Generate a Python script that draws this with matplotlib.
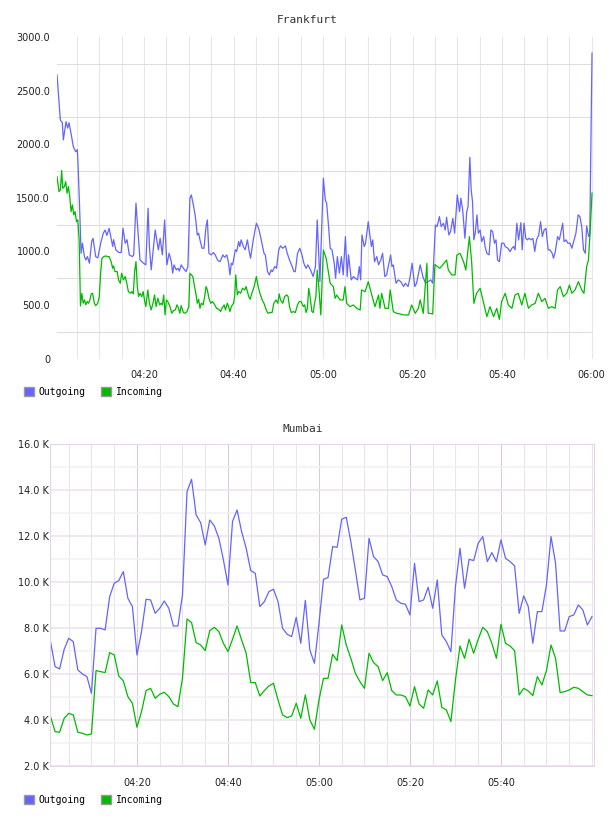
import numpy as np
import matplotlib
matplotlib.use('Agg')
import matplotlib.pyplot as plt
from matplotlib.patches import Patch

# Frankfurt, minutes after 04:00
fra_out_t = [0.56, 1.3, 1.74, 1.97, 2.57, 2.94, 3.24, 3.69, 4.2, 4.73, 5.1, 5.3, 5.6, 5.93, 6.23, 6.68,
             6.98, 7.35, 7.8, 8.3, 8.6, 9.2, 9.66, 10.4, 10.9, 11.3, 11.7, 12.2, 13.0, 13.2, 13.7, 14.4,
             14.9, 15.3, 15.8, 16.2, 16.7, 17.4, 17.7, 18.2, 19.1, 19.9, 20.4, 20.9, 21.2, 21.6, 22.5,
             23.2, 23.6, 24.1, 24.6, 25.1, 25.6, 26.1, 26.4, 26.7, 27.2, 27.6, 27.9, 28.3, 28.8, 29.4,
             29.8, 30.25, 30.57, 31.1, 31.47, 31.9, 32.2, 32.5, 32.96, 33.4, 33.85, 34.15, 34.5, 35.0,
             35.5, 35.9, 36.5, 37.0, 37.6, 38.0, 38.5, 38.9, 39.2, 39.5, 39.8, 40.4, 40.7, 41.15, 41.4,
             41.7, 42.2, 42.6, 43.1, 43.5, 43.8, 44.4, 45.1, 45.6, 46.2, 46.8, 47.1, 47.6, 48.0, 48.4,
             48.7, 49.2, 49.6, 50.1, 50.5, 51.0, 51.6, 52.0, 52.5, 53.1, 53.5, 53.8, 54.3, 54.8, 55.3,
             55.7, 56.2, 56.6, 57.2, 57.8, 58.3, 58.7, 59.3, 60.07, 60.5, 60.8, 61.3, 61.6, 62.0, 62.5,
             62.8, 63.2, 63.65, 64.1, 64.5, 65.0, 65.4, 65.7, 66.3, 66.8, 67.2, 67.7, 68.1, 68.4, 68.7,
             69.2, 69.5, 70.1, 70.5, 70.8, 71.1, 71.5, 72.0, 72.4, 72.9, 73.3, 73.8, 74.2, 75.1, 75.4,
             75.7, 76.3, 76.8, 77.35, 78.0, 78.4, 79.0, 79.4, 79.9, 80.5, 80.9, 81.7, 82.3, 82.9, 83.5,
             84.05, 84.5, 85.1, 85.5, 86.0, 86.4, 86.9, 87.3, 87.6, 88.1, 88.5, 89.0, 89.4, 90.0, 90.5,
             90.8, 91.2, 91.7, 92.1, 92.4, 92.8, 93.1, 93.4, 93.7, 94.0, 94.4, 94.7, 95.1, 95.45, 95.9,
             96.2, 96.6, 97.1, 97.5, 97.9, 98.3, 98.65, 99.0, 99.4, 99.9, 100.4, 100.7, 101.3, 101.8,
             102.2, 102.6, 102.9, 103.3, 103.7, 104.2, 104.5, 104.9, 105.3, 105.65, 106.0, 106.5, 106.9,
             107.3, 107.7, 108.2, 108.6, 109.0, 109.4, 109.8, 110.3, 110.7, 111.2, 111.5, 111.9, 112.4,
             112.8, 113.25, 113.55, 113.85, 114.3, 114.7, 115.2, 115.6, 116.1, 116.5, 117.0, 117.4,
             117.8, 118.2, 118.6, 118.9, 119.35, 119.6, 120.1]
fra_out = [2646, 2225, 2200, 2040, 2210, 2150, 2200, 2100, 1977, 1930, 1950, 1760, 1418, 983, 1077, 952,
           921, 952, 890, 1092, 1123, 952, 940, 1092, 1170, 1200, 1150, 1216, 1046, 1110, 1015, 990,
           990, 1216, 1077, 1110, 968, 952, 968, 1450, 921, 890, 875, 1403, 1046, 828, 1200,
           1015, 1123, 968, 1294, 875, 983, 905, 797, 875, 828, 843, 818, 875, 843, 812,
           860, 1496, 1527, 1418, 1325, 1154, 1170, 1108, 1030, 1030, 1232, 1294, 983, 968,
           990, 968, 915, 905, 968, 946, 968, 890, 781, 890, 875, 1015, 1000, 1092, 1046,
           1108, 1046, 1015, 1108, 1000, 937, 1108, 1263, 1216, 1108, 983, 968, 812, 781, 828,
           812, 859, 843, 1015, 1052, 1030, 1052, 983, 921, 859, 812, 812, 983, 1030, 968,
           890, 843, 875, 828, 766, 859, 1294, 719, 1683, 1481, 1450, 1200, 1030, 1015, 890,
           750, 952, 797, 952, 781, 1139, 766, 968, 735, 766, 750, 735, 859, 735, 1154,
           1046, 1077, 1278, 1139, 1046, 1108, 905, 952, 875, 921, 983, 766, 781, 968, 859,
           875, 704, 735, 719, 673, 704, 673, 750, 890, 673, 704, 875, 766, 704, 719,
           735, 704, 1247, 1232, 1325, 1232, 1263, 1200, 1319, 1154, 1185, 1310, 1170, 1527, 1372,
           1496, 1387, 1123, 1372, 1418, 1878, 1574, 1465, 1108, 1170, 1341, 1170, 1200, 1092, 1139,
           1046, 983, 968, 1200, 1185, 1077, 1108, 921, 905, 1077, 1077, 1046, 1030, 999,
           1030, 1046, 1015, 1263, 1108, 1269, 1015, 1263, 1123, 1108, 1123, 1108, 1123,
           999, 1108, 1154, 1278, 1139, 1200, 1216, 1015, 1015, 983, 937, 999, 1139,
           1108, 1200, 1263, 1092, 1108, 1077, 1077, 1030, 1108, 1170, 1341, 1325,
           1232, 1015, 983, 1238, 1139, 1150, 2850]

fra_in_t = [0.56, 1.0, 1.3, 1.6, 1.83, 2.2, 2.5, 2.8, 3.1, 3.4, 3.7, 4.0, 4.3, 4.6, 4.9, 5.2, 5.5, 5.8,
            6.1, 6.4, 6.7, 7.0, 7.3, 7.6, 7.9, 8.2, 8.5, 8.9, 9.2, 9.66, 10.0, 10.3, 10.6, 11.0, 11.45,
            11.9, 12.2, 12.65, 13.0, 13.2, 13.5, 14.0, 14.3, 14.7, 15.0, 15.4, 15.8, 16.15, 16.5, 17.0,
            17.3, 17.6, 17.9, 18.2, 18.5, 18.8, 19.1, 19.5, 19.8, 20.1, 20.4, 20.85, 21.2, 21.6, 22.0,
            22.35, 22.7, 23.1, 23.5, 23.8, 24.1, 24.4, 24.7, 25.0, 25.3, 25.8, 26.2, 26.6, 27.0, 27.35,
            27.7, 28.0, 28.3, 28.8, 29.2, 29.6, 30.0, 30.25, 30.6, 30.9, 31.3, 31.7, 31.9, 32.2, 32.5,
            32.8, 33.2, 33.55, 33.85, 34.15, 34.5, 34.9, 35.3, 35.8, 36.2, 36.7, 37.1, 37.4, 37.9, 38.2,
            38.6, 38.9, 39.2, 39.5, 40.0, 40.25, 40.5, 40.85, 41.15, 41.6, 42.0, 42.5, 42.8, 43.1, 43.4,
            43.7, 44.1, 44.6, 45.1, 45.5, 45.9, 46.4, 46.8, 47.3, 47.7, 48.1, 48.6, 49.0, 49.5, 49.9,
            50.2, 50.5, 51.0, 51.4, 51.9, 52.2, 52.5, 52.9, 53.4, 53.8, 54.3, 54.7, 55.1, 55.6, 55.9,
            56.2, 56.5, 56.8, 57.1, 57.5, 57.8, 58.1, 58.4, 58.7, 59.0, 59.5, 60.07, 60.7, 61.6, 62.3,
            62.7, 63.05, 63.8, 64.5, 64.9, 65.3, 66.0, 66.8, 67.5, 68.3, 68.6, 69.4, 70.1, 70.9, 71.6,
            72.4, 72.7, 73.1, 73.85, 74.6, 75.0, 75.7, 76.5, 77.2, 78.0, 79.1, 79.8, 80.6, 81.3, 81.7,
            82.4, 83.2, 83.5, 83.9, 84.5, 85.0, 86.1, 87.6, 88.0, 88.75, 89.5, 89.9, 90.6, 91.4, 91.9,
            92.7, 93.2, 93.7, 94.3, 95.1, 95.8, 96.6, 97.3, 98.1, 98.8, 99.4, 99.9, 100.7, 101.4, 102.2,
            102.9, 103.6, 104.4, 105.1, 105.9, 106.6, 107.4, 108.1, 108.9, 109.6, 110.35, 111.1, 111.85,
            112.4, 113.0, 113.7, 114.45, 115.05, 115.6, 116.3, 117.05, 117.8, 118.3, 118.9, 119.3,
            119.7, 120.1]
fra_in = [1697, 1558, 1574, 1754, 1589, 1605, 1651, 1543, 1605, 1512, 1372, 1434, 1341, 1372, 1278, 1294, 1108, 492,
          610, 517, 548, 502, 533, 517, 548, 604, 610, 517, 495, 517, 579, 797, 937, 952, 958,
          952, 952, 905, 843, 865, 812, 812, 735, 704, 797, 735, 766, 704, 626, 610,
          626, 604, 812, 905, 673, 579, 610, 579, 626, 548, 486, 641, 517, 455, 517,
          595, 486, 564, 502, 517, 502, 595, 408, 548, 533, 486, 424, 449, 455, 502,
          471, 424, 495, 430, 424, 440, 486, 797, 781, 766, 673, 579, 517, 554, 470,
          517, 502, 579, 673, 641, 564, 517, 533, 502, 470, 461, 440, 470, 502, 455,
          517, 486, 440, 486, 517, 579, 781, 595, 626, 610, 657, 641, 673, 626, 579,
          554, 610, 673, 766, 673, 610, 548, 517, 455, 424, 430, 430, 517, 548, 517,
          604, 548, 517, 579, 595, 579, 486, 430, 440, 430, 502, 533, 533, 486, 502,
          430, 470, 657, 579, 440, 430, 517, 579, 826, 700, 408, 1013, 936, 703, 672,
          563, 594, 548, 548, 672, 516, 485, 501, 470, 454, 641, 625, 718, 594, 485,
          594, 470, 610, 470, 470, 641, 439, 423, 417, 408, 408, 501, 423, 470, 548,
          423, 889, 423, 423, 417, 878, 843, 920, 827, 781, 781, 967, 983, 905, 827,
          1138, 905, 516, 610, 656, 532, 392, 485, 392, 470, 367, 532, 610, 501, 470,
          594, 610, 501, 610, 470, 501, 516, 610, 532, 563, 470, 485, 470,
          641, 672, 579, 610, 687, 610, 641, 718, 641, 610, 858, 920,
          1200, 1545]

# Mumbai, one sample per minute after 04:00
mum_t = list(range(1, 121))
mum_out = [7407, 6320, 6219, 7074, 7552, 7407, 6175, 6001, 5885, 5161,
           7986, 7986, 7914, 9365, 9944, 10060, 10451, 9292, 8928, 6827,
           7842, 9249, 9220, 8638, 8856, 9175, 8856, 8088, 8088, 9437,
           13929, 14465, 12915, 12581, 11611, 12697, 12436, 11900, 10958, 9872,
           12625, 13132, 12190, 11466, 10495, 10379, 8930, 9147, 9582, 9683,
           9147, 7986, 7726, 7624, 8465, 7334, 9200, 7045, 6465, 8200,
           10118, 10190, 11538, 11509, 12726, 12813, 11756, 10524, 9220, 9292,
           11900, 11103, 10886, 10306, 10234, 9799, 9220, 9075, 9031, 8566,
           10813, 9147, 9220, 9770, 8856, 10089, 7697, 7407, 6972, 9799,
           11466, 9727, 10987, 10929, 11683, 11973, 10886, 11277, 10886, 11828,
           11031, 10886, 10698, 8638, 9394, 8928, 7334, 8711, 8711, 9872,
           11973, 10813, 7870, 7870, 8494, 8566, 9001, 8783, 8131, 8494]
mum_in = [4146, 3494, 3466, 4074, 4291, 4219, 3466, 3422, 3350, 3393,
          6146, 6103, 6059, 6929, 6827, 5914, 5697, 5016, 4726, 3683,
          4364, 5277, 5378, 4943, 5117, 5204, 5016, 4697, 4581, 5813,
          8392, 8233, 7363, 7262, 7015, 7885, 8030, 7842, 7334, 6972,
          7508, 8088, 7479, 6900, 5625, 5625, 5045, 5277, 5480, 5596,
          4871, 4219, 4103, 4175, 4726, 4074, 5088, 4000, 3596, 4871,
          5813, 5813, 6856, 6581, 8131, 7262, 6682, 6030, 5668, 5378,
          6900, 6494, 6320, 5712, 6059, 5277, 5088, 5088, 5016, 4610,
          5451, 4697, 4509, 5306, 5088, 5697, 4552, 4436, 3929, 5741,
          7218, 6682, 7508, 6900, 7508, 8030, 7842, 7334, 6682, 8160,
          7334, 7218, 7015, 5088, 5378, 5262, 5059, 5885, 5523, 6146,
          7262, 6682, 5190, 5233, 5306, 5422, 5378, 5233, 5088, 5059]

xtick_min = [20, 40, 60, 80, 100, 120]
xtick_lbl = ['04:20', '04:40', '05:00', '05:20', '05:40', '06:00']
fra_yticks = [0, 500, 1000, 1500, 2000, 2500, 3000]
fra_ylbl = ['0', '500.0', '1000.0', '1500.0', '2000.0', '2500.0', '3000.0']
mum_yticks = [2000, 4000, 6000, 8000, 10000, 12000, 14000, 16000]
mum_ylbl = ['2.0 K', '4.0 K', '6.0 K', '8.0 K', '10.0 K', '12.0 K', '14.0 K', '16.0 K']
series_names = ['Outgoing', 'Incoming']

OUT_C = '#6464ff'
IN_C = '#00bb00'
MONO = 'DejaVu Sans Mono'
GW = 0.75  # one pixel grid lines

plt.rcParams['font.family'] = 'DejaVu Sans'
plt.rcParams['font.size'] = 7

fig = plt.figure(figsize=(6.08, 8.16), dpi=100)

# --- Frankfurt ---
ax1 = fig.add_axes([0.0938, 0.5604, 0.8816, 0.3943])
ax1.plot(fra_out_t, fra_out, color=OUT_C, lw=0.9)
ax1.plot(fra_in_t, fra_in, color=IN_C, lw=0.9)
ax1.set_xlim(0.56, 120.33)
ax1.set_ylim(0, 3000)
ax1.set_xticks(xtick_min, xtick_lbl)
ax1.set_xticks(np.arange(5, 121, 5), minor=True)
ax1.set_yticks(fra_yticks, fra_ylbl)
ax1.set_yticks(np.arange(250, 3000, 500), minor=True)
ax1.set_axisbelow(True)
ax1.grid(axis='x', which='both', color='#e6e6e6', lw=GW)
ax1.grid(axis='y', which='minor', color='#dddddd', lw=GW)
for s in ax1.spines.values():
    s.set_visible(False)
ax1.tick_params(which='both', length=0, colors='#222222')
ax1.tick_params(axis='y', pad=5)
ax1.tick_params(axis='x', pad=8)

# --- Mumbai ---
ax2 = fig.add_axes([0.0822, 0.0613, 0.8947, 0.3946])
ax2.plot(mum_t, mum_out, color=OUT_C, lw=0.9)
ax2.plot(mum_t, mum_in, color=IN_C, lw=0.9)
ax2.set_xlim(0.88, 120.44)
ax2.set_ylim(2000, 16000)
ax2.set_xticks(xtick_min[:-1], xtick_lbl[:-1])
ax2.set_xticks(np.arange(5, 121, 5), minor=True)
ax2.set_yticks(mum_yticks, mum_ylbl)
ax2.set_yticks(np.arange(3000, 16000, 2000), minor=True)
ax2.set_axisbelow(True)
ax2.grid(axis='x', which='major', color='#dcc8e0', lw=GW)
ax2.grid(axis='x', which='minor', color='#e9e3eb', lw=GW)
ax2.grid(axis='y', which='major', color='#eee0f0', lw=1.1)
ax2.grid(axis='y', which='minor', color='#f2f0f2', lw=1.1)
for s in ax2.spines.values():
    s.set_color('#e6d4ea')
    s.set_linewidth(GW)
ax2.tick_params(which='both', length=0, colors='#222222')
ax2.tick_params(axis='y', pad=1)
ax2.tick_params(axis='x', pad=9)

# titles
fig.text(307 / 608, 1 - 20 / 816, 'Frankfurt', ha='center', va='center',
         family=MONO, size=8, color='#333333')
fig.text(303 / 608, 1 - 429 / 816, 'Mumbai', ha='center', va='center',
         family=MONO, size=8, color='#333333')

# legends
for ypix in (392, 800):
    handles = [Patch(fc=OUT_C, ec='#999999', lw=1), Patch(fc=IN_C, ec='#999999', lw=1)]
    fig.legend(handles, series_names, loc='center left',
               bbox_to_anchor=(24 / 608, 1 - ypix / 816), ncol=2, frameon=False,
               prop={'family': MONO, 'size': 7}, handlelength=1.0, handleheight=1.0,
               handletextpad=0.5, columnspacing=1.6, borderpad=0, borderaxespad=0)

fig.savefig('out.png', dpi=100)
